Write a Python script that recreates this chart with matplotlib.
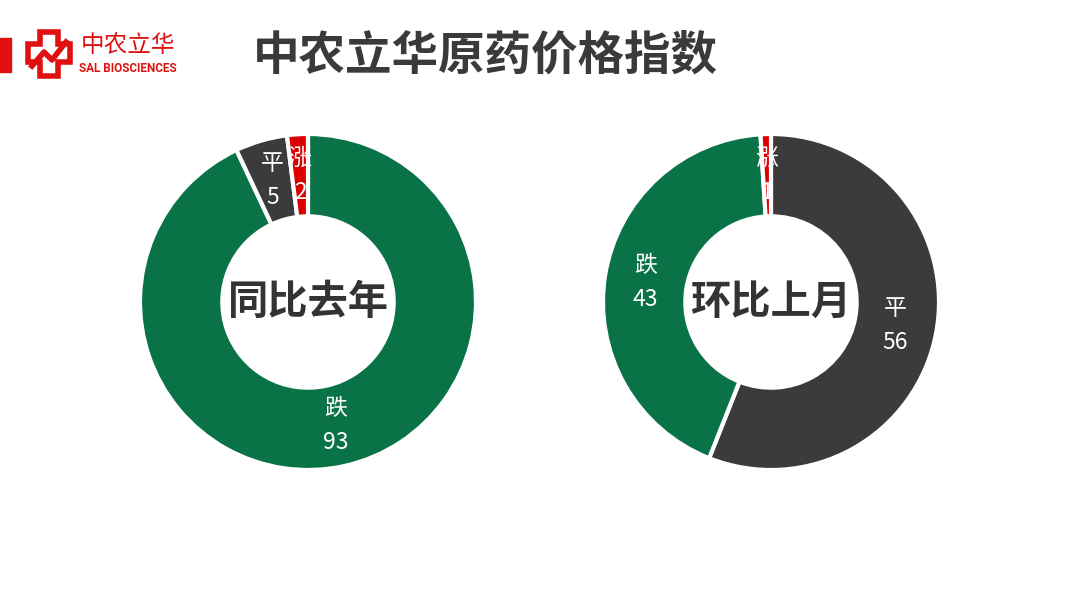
import matplotlib
matplotlib.use("Agg")
import matplotlib.pyplot as plt
import numpy as np
from matplotlib.patches import Rectangle, Polygon

plt.rcParams['font.family'] = ['Noto Sans CJK SC', 'DejaVu Sans']

# data
labels = ['跌', '平', '涨']
yoy_values = [93, 5, 2]          # 同比去年
mom_labels = ['平', '跌', '涨']
mom_values = [56, 43, 1]         # 环比上月

green = '#0a7247'
gray = '#3b3b3b'
red = '#d90000'
color_map = {'跌': green, '平': gray, '涨': red}

W, H = 1080, 608
fig = plt.figure(figsize=(W / 100, H / 100), dpi=100)
fig.patch.set_facecolor('white')


def px_axes(cx, cy, r):
    return fig.add_axes([(cx - r) / W, 1 - (cy + r) / H, 2 * r / W, 2 * r / H])


def donut(ax, labs, vals, center_text):
    cols = [color_map[l] for l in labs]
    wedges, _ = ax.pie(vals, colors=cols, startangle=90, counterclock=False,
                       radius=1.0,
                       wedgeprops=dict(width=0.49, edgecolor='white', linewidth=3))
    for w, l, v in zip(wedges, labs, vals):
        ang = np.deg2rad((w.theta1 + w.theta2) / 2)
        x, y = 0.755 * np.cos(ang), 0.755 * np.sin(ang)
        ax.text(x, y, f'{l}\n{v}', ha='center', va='center', color='white',
                fontsize=16.5, linespacing=1.6)
    ax.text(0, 0, center_text, ha='center', va='center', color='#333333',
            fontsize=29, fontweight='bold')
    ax.set_aspect('equal')
    ax.set_xlim(-1, 1)
    ax.set_ylim(-1, 1)
    ax.axis('off')


donut(px_axes(308, 302, 168), labels, yoy_values, '同比去年')
donut(px_axes(771, 302, 168), mom_labels, mom_values, '环比上月')

# title
fig.text(485 / W, 1 - 57 / H, '中农立华原药价格指数', ha='center', va='center',
         fontsize=33.5, fontweight='bold', color='#3a3a3a')

# logo
fig.patches.append(Rectangle((0, 1 - 72 / H), 11 / W, 34 / H,
                             transform=fig.transFigure, color='#e01010'))
cross = [(40, 32), (58, 32), (58, 44), (70, 44), (70, 62), (58, 62), (58, 76),
         (40, 76), (40, 62), (28, 62), (28, 44), (40, 44)]
fig.patches.append(Polygon([(x / W, 1 - y / H) for x, y in cross], closed=True,
                           transform=fig.transFigure, fill=False,
                           edgecolor='#e01010', linewidth=4))
zig = [(32, 66), (44, 52), (52, 60), (66, 42)]
fig.lines.append(plt.Line2D([x / W for x, y in zig], [1 - y / H for x, y in zig],
                            transform=fig.transFigure, color='#e01010', linewidth=4))
fig.text(128 / W, 1 - 45 / H, '中农立华', ha='center', va='center',
         fontsize=17, color='#e01010')
fig.text(128 / W, 1 - 68 / H, 'SAL BIOSCIENCES', ha='center', va='center',
         fontsize=8.5, color='#e01010', family=['Roboto', 'DejaVu Sans'],
         fontweight='bold')

fig.savefig('out.png', dpi=100, facecolor='white')
